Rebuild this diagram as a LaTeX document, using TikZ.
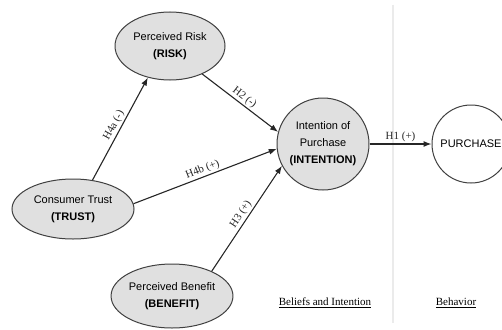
\documentclass[tikz,border=0pt]{standalone}
\usepackage{fontspec}
\setmainfont{Liberation Serif}
\setsansfont{Liberation Sans}
\usetikzlibrary{shapes.geometric,arrows.meta}
\tikzset{
  construct/.style={ellipse, draw=black!75, fill=black!12, line width=1pt, inner sep=0pt, align=center, font=\sffamily\fontsize{11}{17}\selectfont},
  behav/.style={circle, draw=black!75, fill=white, line width=1pt, inner sep=0pt, align=center, font=\sffamily\fontsize{11}{17}\selectfont},
  hyp/.style={-{Latex[length=8pt,width=6pt]}, line width=1.1pt, black!85},
  hlab/.style={font=\rmfamily\fontsize{11}{12}\selectfont, sloped, above, inner sep=1.5pt},
  sect/.style={font=\rmfamily\fontsize{11}{12}\selectfont}
}
\begin{document}
\begin{tikzpicture}[x=1pt,y=-1pt]
\useasboundingbox (0,0) rectangle (502,329);
\fill[white] (0,0) rectangle (502,329);
\coordinate (dtop) at (393,5);
\coordinate (dbot) at (393,323);
\draw[black!8, line width=1.2pt] (dtop) -- (dbot);
\node[construct, minimum width=110pt, minimum height=68pt] (risk) at (170,46) {Perceived Risk\\\textbf{(RISK)}};
\node[construct, minimum width=122pt, minimum height=60pt] (trust) at (73,209) {Consumer Trust\\\textbf{(TRUST)}};
\node[construct, minimum width=108pt, minimum height=64pt] (benefit) at (172,296) {Perceived Benefit\\\textbf{(BENEFIT)}};
\node[construct, circle, minimum size=92pt] (intention) at (323,144) {Intention of\\Purchase\\\textbf{(INTENTION)}};
\node[behav, minimum size=78pt] (purchase) at (471,144) {PURCHASE};
\draw[hyp] (trust.56) -- node[hlab] {H4a (-)} (risk.235);
\draw[hyp] (risk.-41) -- node[hlab] {H2 (-)} (intention.165);
\draw[hyp] (trust.5) -- node[hlab] {H4b (+)} (intention.186);
\draw[hyp] (benefit.32) -- node[hlab] {H3 (+)} (intention.208);
\draw[hyp] (intention.east) -- node[hlab] {H1 (+)} (purchase.west);
\node[sect] (beliefs) at (325,303) {\underline{Beliefs and Intention}};
\node[sect] (behavior) at (456,303) {\underline{Behavior}};
\end{tikzpicture}
\end{document}
